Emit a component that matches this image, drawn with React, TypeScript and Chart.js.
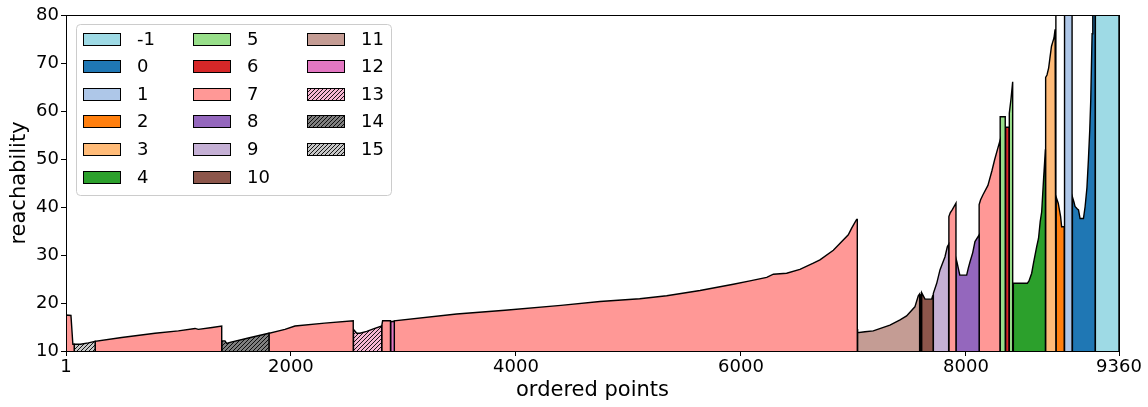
import React, { useEffect, useRef } from 'react';
import { Chart, registerables } from 'chart.js';

Chart.register(...registerables);

// ---------- data ----------
const clusterLabels = ['-1', '0', '1', '2', '3', '4', '5', '6', '7', '8', '9', '10', '11', '12', '13', '14', '15'];
const clusterColors = ['#9edae5', '#1f77b4', '#aec7e8', '#ff7f0e', '#ffbb78', '#2ca02c', '#98df8a', '#d62728', '#ff9896', '#9467bd', '#c5b0d5', '#8c564b', '#c49c94', '#e377c2', '#f7b6d2', '#7f7f7f', '#c7c7c7'];
const hatchedClusters = ['13', '14', '15'];

const xTickValues = [1, 2000, 4000, 6000, 8000, 9360];
const yTickValues = [10, 20, 30, 40, 50, 60, 70, 80];

// cluster of each contiguous run of ordered points
const segClusters = ['7', '15', '7', '14', '7', '13', '7', '12', '7', '11', '9', '10', '9', '7', '8', '7', '5', '6', '5', '4', '3', '2', '1', '0', '-1'];

// reachability [ordered point, value] for each run (values above 80 are off-scale)
const segReach: number[][][] = [
  [[1, 17.5], [45, 17.4], [62, 11.4], [74, 11.4]],
  [[74, 11.4], [130, 11.4], [200, 11.7], [260, 12.0]],
  [[260, 12.0], [496, 12.8], [792, 13.7], [1000, 14.2], [1148, 14.7], [1177, 14.5], [1300, 14.9], [1385, 15.2]],
  [[1385, 12.1], [1414, 12.1], [1429, 11.6], [1459, 11.8], [1622, 12.7], [1805, 13.7]],
  [[1805, 13.7], [1947, 14.5], [2036, 15.2], [2300, 15.8], [2554, 16.3]],
  [[2556, 14.5], [2585, 13.7], [2614, 13.7], [2674, 14.1], [2733, 14.6], [2807, 15.2]],
  [[2807, 15.2], [2815, 16.3], [2885, 16.3]],
  [[2887, 16.1], [2919, 16.2]],
  [[2919, 16.3], [3473, 17.7], [3903, 18.5], [4400, 19.5], [4747, 20.3], [5100, 20.9], [5340, 21.5], [5636, 22.6], [5932, 23.9], [6080, 24.6], [6229, 25.35], [6288, 26.0], [6406, 26.2], [6524, 27.0], [6643, 28.3], [6702, 29.0], [6821, 31.0], [6954, 34.2], [6984, 35.6], [7028, 37.4], [7034, 37.4]],
  [[7034, 14.6], [7040, 13.8], [7102, 14.0], [7176, 14.2], [7324, 15.4], [7414, 16.5], [7472, 17.3], [7546, 19.2], [7576, 21.5], [7588, 21.9]],
  [[7590, 21.6], [7602, 21.8]],
  [[7604, 22.0], [7609, 22.1], [7636, 20.8], [7695, 20.8], [7704, 21.5], [7708, 21.6]],
  [[7710, 22.0], [7740, 24.1], [7769, 26.9], [7800, 28.8], [7813, 29.6], [7834, 31.7], [7846, 32.2]],
  [[7848, 38.0], [7860, 38.8], [7880, 39.5], [7911, 40.8]],
  [[7911, 29.3], [7920, 28.5], [7945, 25.8], [8006, 25.8], [8020, 27.2], [8036, 28.6], [8060, 30.5], [8080, 32.8], [8117, 34.2]],
  [[8117, 40.5], [8130, 41.5], [8150, 42.5], [8195, 44.5], [8230, 47.5], [8254, 49.8], [8280, 52.0], [8302, 53.8]],
  [[8304, 58.8], [8349, 58.8]],
  [[8352, 56.6], [8382, 56.6]],
  [[8385, 59.5], [8400, 62.5], [8415, 66.1]],
  [[8421, 24.1], [8545, 24.1], [8560, 24.6], [8584, 26.2], [8600, 28.3], [8628, 31.7], [8645, 33.5], [8660, 37.0], [8673, 39.0], [8690, 46.0], [8706, 52.0]],
  [[8708, 67.0], [8720, 67.5], [8735, 69.0], [8746, 71.0], [8760, 73.5], [8770, 74.3], [8782, 75.2], [8792, 77.0], [8797, 100], [8800, 100]],
  [[8801, 42.1], [8820, 40.8], [8841, 38.0], [8850, 35.9], [8873, 35.9]],
  [[8876, 100], [8943, 100]],
  [[8946, 42.1], [8960, 41.0], [8969, 40.1], [8990, 39.6], [9000, 39.4], [9014, 37.6], [9044, 37.6], [9059, 40.1], [9075, 44.0], [9088, 49.8], [9100, 56.0], [9109, 62.3], [9121, 76.1], [9127, 100], [9148, 100]],
  [[9150, 100], [9360, 100]],
];

const FONT = "'DejaVu Sans', sans-serif";

function makeHatch(bg: string): CanvasPattern | string {
  const s = 4;
  const c = document.createElement('canvas');
  c.width = s;
  c.height = s;
  const g = c.getContext('2d');
  if (!g) return bg;
  g.fillStyle = bg;
  g.fillRect(0, 0, s, s);
  g.strokeStyle = '#000';
  g.lineWidth = 0.9;
  g.beginPath();
  g.moveTo(-1, s + 1);
  g.lineTo(s + 1, -1);
  g.moveTo(-1, 1);
  g.lineTo(1, -1);
  g.moveTo(s - 1, s + 1);
  g.lineTo(s + 1, s - 1);
  g.stroke();
  return g.createPattern(c, 'repeat') || bg;
}

export default function App() {
  const ref = useRef<HTMLCanvasElement | null>(null);

  useEffect(() => {
    if (!ref.current) return;
    document.body.style.margin = '0';

    const fills: Record<string, any> = {};
    clusterLabels.forEach((lab, i) => {
      fills[lab] = hatchedClusters.includes(lab) ? makeHatch(clusterColors[i]) : clusterColors[i];
    });

    const datasets = segReach.map((pts, i) => {
      const first = pts[0][0];
      const last = pts[pts.length - 1][0];
      const data = [{ x: first, y: 10 }, ...pts.map(([x, y]) => ({ x, y })), { x: last, y: 10 }];
      return {
        label: segClusters[i],
        data,
        showLine: true,
        fill: 'start',
        backgroundColor: fills[segClusters[i]],
        borderColor: '#000',
        borderWidth: 1.4,
        pointRadius: 0,
        tension: 0,
      };
    });

    const framePlugin = {
      id: 'frame',
      afterDatasetsDraw(chart: any) {
        const { ctx, chartArea: a } = chart;
        ctx.save();
        ctx.strokeStyle = '#000';
        ctx.lineWidth = 1;
        ctx.strokeRect(Math.round(a.left) + 0.5, Math.round(a.top) + 0.5, Math.round(a.right - a.left), Math.round(a.bottom - a.top));
        ctx.restore();
      },
    };

    const legendPlugin = {
      id: 'gridLegend',
      afterDraw(chart: any) {
        const ctx = chart.ctx as CanvasRenderingContext2D;
        ctx.save();
        const bx = 76.5, by = 24.5, bw = 315, bh = 171, r = 4;
        ctx.beginPath();
        ctx.moveTo(bx + r, by);
        ctx.lineTo(bx + bw - r, by);
        ctx.quadraticCurveTo(bx + bw, by, bx + bw, by + r);
        ctx.lineTo(bx + bw, by + bh - r);
        ctx.quadraticCurveTo(bx + bw, by + bh, bx + bw - r, by + bh);
        ctx.lineTo(bx + r, by + bh);
        ctx.quadraticCurveTo(bx, by + bh, bx, by + bh - r);
        ctx.lineTo(bx, by + r);
        ctx.quadraticCurveTo(bx, by, bx + r, by);
        ctx.closePath();
        ctx.fillStyle = 'rgba(255,255,255,0.8)';
        ctx.fill();
        ctx.strokeStyle = '#cccccc';
        ctx.lineWidth = 1;
        ctx.stroke();

        const patchX = [83, 193, 307];
        const textX = [137, 247, 361];
        ctx.font = `18px ${FONT}`;
        ctx.textBaseline = 'middle';
        ctx.textAlign = 'left';
        clusterLabels.forEach((lab, i) => {
          const col = Math.floor(i / 6);
          const row = i % 6;
          const cy = 39 + row * 27.6;
          const px = patchX[col];
          ctx.fillStyle = fills[lab];
          ctx.fillRect(px, Math.round(cy - 6.5), 38, 13);
          ctx.strokeStyle = '#000';
          ctx.lineWidth = 1;
          ctx.strokeRect(px + 0.5, Math.round(cy - 6.5) + 0.5, 37, 12);
          ctx.fillStyle = '#000';
          ctx.fillText(lab, textX[col], cy + 1);
        });
        ctx.restore();
      },
    };

    const chart = new Chart(ref.current, {
      type: 'scatter',
      data: { datasets: datasets as any },
      options: {
        animation: false,
        responsive: false,
        maintainAspectRatio: false,
        layout: { padding: { top: 15, right: 29, left: 0, bottom: 0 } },
        plugins: { legend: { display: false }, tooltip: { enabled: false } },
        scales: {
          x: {
            type: 'linear',
            min: 1,
            max: 9360,
            afterBuildTicks: (axis: any) => {
              axis.ticks = xTickValues.map((v) => ({ value: v }));
            },
            afterFit: (axis: any) => {
              axis.height = 56;
            },
            grid: { display: true, drawOnChartArea: false, drawTicks: true, tickLength: 5, color: '#000', lineWidth: 1 },
            border: { display: false },
            ticks: {
              color: '#000',
              font: { family: FONT, size: 18 },
              padding: 1,
              maxRotation: 0,
              autoSkip: false,
              callback: (v: any) => String(v),
            },
            title: { display: true, text: 'ordered points', color: '#000', font: { family: FONT, size: 21 }, padding: { top: 0, bottom: 4 } },
          },
          y: {
            min: 10,
            max: 80,
            afterBuildTicks: (axis: any) => {
              axis.ticks = yTickValues.map((v) => ({ value: v }));
            },
            afterFit: (axis: any) => {
              axis.width = 66;
            },
            grid: { display: true, drawOnChartArea: false, drawTicks: true, tickLength: 5, color: '#000', lineWidth: 1 },
            border: { display: false },
            ticks: {
              color: '#000',
              font: { family: FONT, size: 18 },
              padding: 2,
              autoSkip: false,
              callback: (v: any) => String(v),
            },
            title: { display: true, text: 'reachability', color: '#000', font: { family: FONT, size: 21 }, padding: { top: 7, bottom: 0 } },
          },
        },
      },
      plugins: [framePlugin, legendPlugin],
    } as any);

    return () => chart.destroy();
  }, []);

  return (
    <div style={{ position: 'absolute', left: 0, top: 0, width: 1148, height: 407 }}>
      <canvas ref={ref} width={1148} height={407} style={{ display: 'block', width: 1148, height: 407 }} />
    </div>
  );
}
